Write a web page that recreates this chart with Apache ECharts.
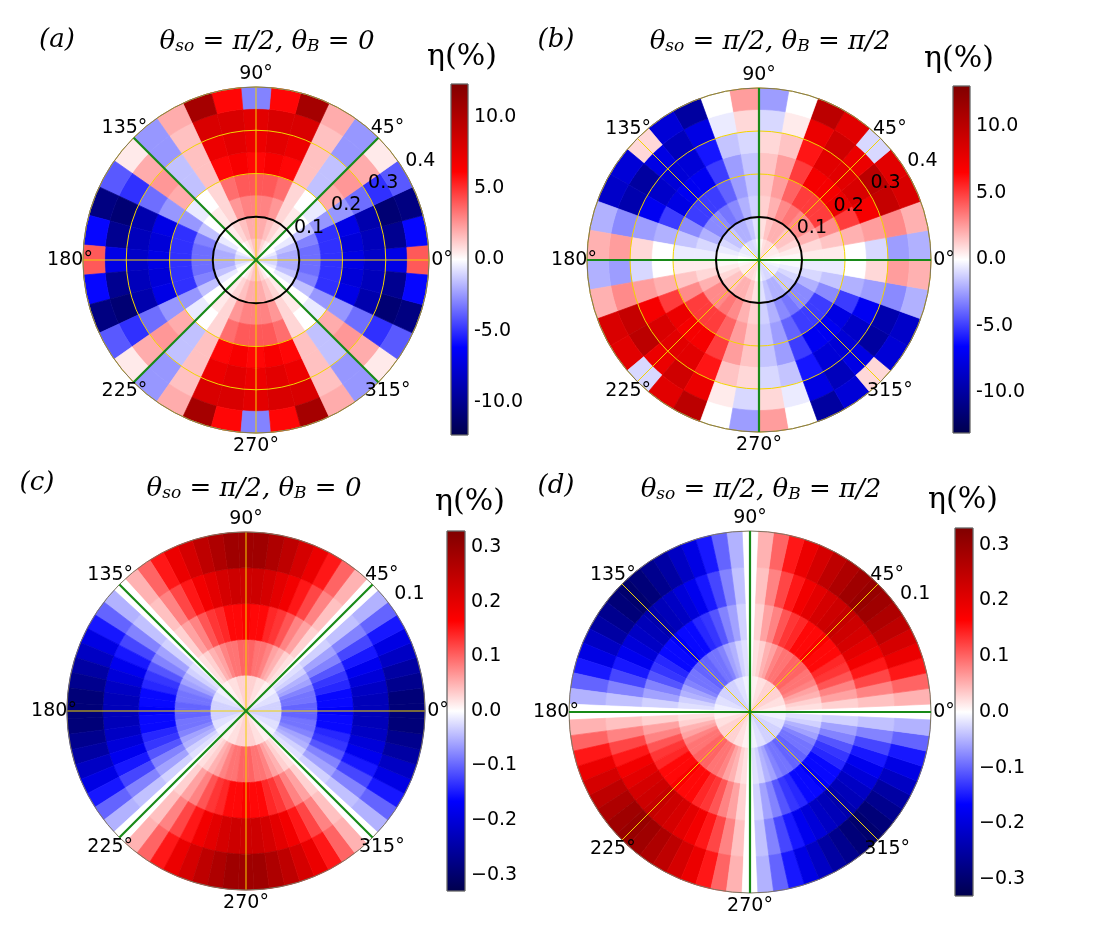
<!DOCTYPE html>
<html>
<head>
<meta charset="utf-8">
<script src="https://cdn.jsdelivr.net/npm/echarts@6/dist/echarts.min.js"></script>
<style>
html, body { margin: 0; padding: 0; background: #fff; }
#main { width: 1101px; height: 948px; }
</style>
</head>
<body>
<div id="main"></div>
<script>
// 扇区中心角度(度)
var angA = [0,10,20,30,40,50,60,70,80,90,100,110,120,130,140,150,160,170,180,190,200,210,220,230,240,250,260,270,280,290,300,310,320,330,340,350];
var angB = [5,15,25,35,45,55,65,75,85,95,105,115,125,135,145,155,165,175,185,195,205,215,225,235,245,255,265,275,285,295,305,315,325,335,345,355];
var ang5 = [0,5,10,15,20,25,30,35,40,45,50,55,60,65,70,75,80,85,90,95,100,105,110,115,120,125,130,135,140,145,150,155,160,165,170,175,
            180,185,190,195,200,205,210,215,220,225,230,235,240,245,250,255,260,265,270,275,280,285,290,295,300,305,310,315,320,325,330,335,340,345,350,355];
// 半径分层边界
var ringsAB = [0, 0.05, 0.1, 0.15, 0.2, 0.25, 0.3, 0.35, 0.4];
var ringsCD = [0, 0.02, 0.04, 0.06, 0.08, 0.1];

// (a) η(%) 每行一个扇区, 从内到外
var etaA = [
  [-1.0,-2.0,-3.5,-5.0,-7.0,-8.0,-7.0,4.0],
  [-1.0,-2.0,-3.5,-5.0,-7.5,-8.5,-10.0,-6.0],
  [-0.5,-1.5,-3.0,-5.0,-7.0,-9.0,-11.0,-10.5],
  [0.0,-0.5,-1.5,-2.5,-2.5,-3.5,-5.0,-4.0],
  [0.0,0.0,0.0,-0.5,2.0,2.5,2.0,0.5],
  [0.0,0.5,0.5,0.0,-1.5,-1.5,-2.5,-2.5],
  [0.5,1.0,1.0,1.0,1.5,1.5,1.5,2.0],
  [1.0,1.5,2.5,3.5,6.0,7.0,8.0,10.5],
  [1.5,2.0,3.0,4.0,6.5,7.5,8.0,6.0],
  [1.5,2.0,3.0,4.0,6.0,7.0,7.5,-3.0],
  [1.5,2.0,3.0,4.0,6.5,7.5,8.0,6.0],
  [1.0,1.5,2.5,3.5,6.0,7.0,8.0,10.5],
  [0.5,1.0,1.0,1.0,1.5,1.5,1.5,2.0],
  [0.0,0.5,0.5,0.0,-1.5,-1.5,-2.5,-2.5],
  [0.0,0.0,0.0,-0.5,2.0,2.5,2.0,0.5],
  [0.0,-0.5,-1.5,-2.5,-2.5,-3.5,-5.0,-4.0],
  [-0.5,-1.5,-3.0,-5.0,-7.0,-9.0,-11.0,-10.5],
  [-1.0,-2.0,-3.5,-5.0,-7.5,-8.5,-10.0,-6.0],
  [-1.0,-2.0,-3.5,-5.0,-7.0,-8.0,-7.0,4.0],
  [-1.0,-2.0,-3.5,-5.0,-7.5,-8.5,-10.0,-6.0],
  [-0.5,-1.5,-3.0,-5.0,-7.0,-9.0,-11.0,-10.5],
  [0.0,-0.5,-1.5,-2.5,-2.5,-3.5,-5.0,-4.0],
  [0.0,0.0,0.0,-0.5,2.0,2.5,2.0,0.5],
  [0.0,0.5,0.5,0.0,-1.5,-1.5,-2.5,-2.5],
  [0.5,1.0,1.0,1.0,1.5,1.5,1.5,2.0],
  [1.0,1.5,2.5,3.5,6.0,7.0,8.0,10.5],
  [1.5,2.0,3.0,4.0,6.5,7.5,8.0,6.0],
  [1.5,2.0,3.0,4.0,6.0,7.0,7.5,-3.0],
  [1.5,2.0,3.0,4.0,6.5,7.5,8.0,6.0],
  [1.0,1.5,2.5,3.5,6.0,7.0,8.0,10.5],
  [0.5,1.0,1.0,1.0,1.5,1.5,1.5,2.0],
  [0.0,0.5,0.5,0.0,-1.5,-1.5,-2.5,-2.5],
  [0.0,0.0,0.0,-0.5,2.0,2.5,2.0,0.5],
  [0.0,-0.5,-1.5,-2.5,-2.5,-3.5,-5.0,-4.0],
  [-0.5,-1.5,-3.0,-5.0,-7.0,-9.0,-11.0,-10.5],
  [-1.0,-2.0,-3.5,-5.0,-7.5,-8.5,-10.0,-6.0]
];

// (b)
var etaB = [
  [0.0,0.2,0.5,0.5,0.0,-1.0,-2.5,-2.0],
  [0.3,0.5,1.0,1.5,2.0,2.5,3.0,2.0],
  [0.5,1.0,2.0,3.0,5.0,7.0,9.5,8.5],
  [0.5,1.5,3.0,5.0,7.5,8.5,10.0,8.0],
  [0.5,1.5,3.0,5.0,7.0,8.0,7.5,-1.0],
  [1.0,2.0,3.5,5.0,7.0,8.0,9.0,8.0],
  [1.0,2.0,3.0,4.0,5.0,6.0,7.5,10.0],
  [0.8,1.5,2.0,2.5,2.5,1.5,0.5,0.0],
  [0.3,0.8,1.2,1.5,1.5,1.0,-1.0,-2.5],
  [-0.3,-0.8,-1.2,-1.5,-1.5,-1.0,1.0,2.5],
  [-0.8,-1.5,-2.0,-2.5,-2.5,-1.5,-0.5,0.0],
  [-1.0,-2.0,-3.0,-4.0,-5.0,-6.0,-7.5,-10.0],
  [-1.0,-2.0,-3.5,-5.0,-7.0,-8.0,-9.0,-8.0],
  [-0.5,-1.5,-3.0,-5.0,-7.0,-8.0,-7.5,1.0],
  [-0.5,-1.5,-3.0,-5.0,-7.5,-8.5,-10.0,-8.0],
  [-0.5,-1.0,-2.0,-3.0,-5.0,-7.0,-9.5,-8.5],
  [-0.3,-0.5,-1.0,-1.5,-2.0,-2.5,-3.0,-2.0],
  [0.0,-0.2,-0.5,-0.5,0.0,1.0,2.5,2.0],
  [0.0,0.2,0.5,0.5,0.0,-1.0,-2.5,-2.0],
  [0.3,0.5,1.0,1.5,2.0,2.5,3.0,2.0],
  [0.5,1.0,2.0,3.0,5.0,7.0,9.5,8.5],
  [0.5,1.5,3.0,5.0,7.5,8.5,10.0,8.0],
  [0.5,1.5,3.0,5.0,7.0,8.0,7.5,-1.0],
  [1.0,2.0,3.5,5.0,7.0,8.0,9.0,8.0],
  [1.0,2.0,3.0,4.0,5.0,6.0,7.5,10.0],
  [0.8,1.5,2.0,2.5,2.5,1.5,0.5,0.0],
  [0.3,0.8,1.2,1.5,1.5,1.0,-1.0,-2.5],
  [-0.3,-0.8,-1.2,-1.5,-1.5,-1.0,1.0,2.5],
  [-0.8,-1.5,-2.0,-2.5,-2.5,-1.5,-0.5,0.0],
  [-1.0,-2.0,-3.0,-4.0,-5.0,-6.0,-7.5,-10.0],
  [-1.0,-2.0,-3.5,-5.0,-7.0,-8.0,-9.0,-8.0],
  [-0.5,-1.5,-3.0,-5.0,-7.0,-8.0,-7.5,1.0],
  [-0.5,-1.5,-3.0,-5.0,-7.5,-8.5,-10.0,-8.0],
  [-0.5,-1.0,-2.0,-3.0,-5.0,-7.0,-9.5,-8.5],
  [-0.3,-0.5,-1.0,-1.5,-2.0,-2.5,-3.0,-2.0],
  [0.0,-0.2,-0.5,-0.5,0.0,1.0,2.5,2.0]
];

// (c)
var etaC = [
  [-0.03,-0.10,-0.17,-0.23,-0.29],[-0.03,-0.10,-0.16,-0.23,-0.29],[-0.03,-0.09,-0.16,-0.22,-0.27],[-0.03,-0.09,-0.14,-0.20,-0.25],
  [-0.02,-0.08,-0.13,-0.18,-0.22],[-0.02,-0.06,-0.11,-0.15,-0.19],[-0.02,-0.05,-0.08,-0.12,-0.15],[-0.01,-0.03,-0.06,-0.08,-0.10],
  [-0.01,-0.02,-0.03,-0.04,-0.05],[0.00,0.00,0.00,0.00,0.00],[0.01,0.02,0.03,0.04,0.05],[0.01,0.03,0.06,0.08,0.10],
  [0.02,0.05,0.08,0.12,0.15],[0.02,0.06,0.11,0.15,0.19],[0.02,0.08,0.13,0.18,0.22],[0.03,0.09,0.14,0.20,0.25],
  [0.03,0.09,0.16,0.22,0.27],[0.03,0.10,0.16,0.23,0.29],[0.03,0.10,0.17,0.23,0.29],
  [0.03,0.10,0.16,0.23,0.29],[0.03,0.09,0.16,0.22,0.27],[0.03,0.09,0.14,0.20,0.25],[0.02,0.08,0.13,0.18,0.22],
  [0.02,0.06,0.11,0.15,0.19],[0.02,0.05,0.08,0.12,0.15],[0.01,0.03,0.06,0.08,0.10],[0.01,0.02,0.03,0.04,0.05],
  [0.00,0.00,0.00,0.00,0.00],[-0.01,-0.02,-0.03,-0.04,-0.05],[-0.01,-0.03,-0.06,-0.08,-0.10],[-0.02,-0.05,-0.08,-0.12,-0.15],
  [-0.02,-0.06,-0.11,-0.15,-0.19],[-0.02,-0.08,-0.13,-0.18,-0.22],[-0.03,-0.09,-0.14,-0.20,-0.25],[-0.03,-0.09,-0.16,-0.22,-0.27],
  [-0.03,-0.10,-0.16,-0.23,-0.29],
  [-0.03,-0.10,-0.17,-0.23,-0.29],[-0.03,-0.10,-0.16,-0.23,-0.29],[-0.03,-0.09,-0.16,-0.22,-0.27],[-0.03,-0.09,-0.14,-0.20,-0.25],
  [-0.02,-0.08,-0.13,-0.18,-0.22],[-0.02,-0.06,-0.11,-0.15,-0.19],[-0.02,-0.05,-0.08,-0.12,-0.15],[-0.01,-0.03,-0.06,-0.08,-0.10],
  [-0.01,-0.02,-0.03,-0.04,-0.05],[0.00,0.00,0.00,0.00,0.00],[0.01,0.02,0.03,0.04,0.05],[0.01,0.03,0.06,0.08,0.10],
  [0.02,0.05,0.08,0.12,0.15],[0.02,0.06,0.11,0.15,0.19],[0.02,0.08,0.13,0.18,0.22],[0.03,0.09,0.14,0.20,0.25],
  [0.03,0.09,0.16,0.22,0.27],[0.03,0.10,0.16,0.23,0.29],[0.03,0.10,0.17,0.23,0.29],
  [0.03,0.10,0.16,0.23,0.29],[0.03,0.09,0.16,0.22,0.27],[0.03,0.09,0.14,0.20,0.25],[0.02,0.08,0.13,0.18,0.22],
  [0.02,0.06,0.11,0.15,0.19],[0.02,0.05,0.08,0.12,0.15],[0.01,0.03,0.06,0.08,0.10],[0.01,0.02,0.03,0.04,0.05],
  [0.00,0.00,0.00,0.00,0.00],[-0.01,-0.02,-0.03,-0.04,-0.05],[-0.01,-0.03,-0.06,-0.08,-0.10],[-0.02,-0.05,-0.08,-0.12,-0.15],
  [-0.02,-0.06,-0.11,-0.15,-0.19],[-0.02,-0.08,-0.13,-0.18,-0.22],[-0.03,-0.09,-0.14,-0.20,-0.25],[-0.03,-0.09,-0.16,-0.22,-0.27],
  [-0.03,-0.10,-0.16,-0.23,-0.29]
];

// (d)
var etaD = [
  [0,0,0,0,0],
  [0.01,0.02,0.03,0.04,0.05],[0.01,0.03,0.06,0.08,0.10],[0.02,0.05,0.08,0.12,0.15],[0.02,0.06,0.11,0.15,0.19],
  [0.02,0.08,0.13,0.18,0.22],[0.03,0.09,0.14,0.20,0.25],[0.03,0.09,0.16,0.22,0.27],[0.03,0.10,0.16,0.23,0.29],
  [0.03,0.10,0.17,0.24,0.30],
  [0.03,0.10,0.16,0.23,0.29],[0.03,0.09,0.16,0.22,0.27],[0.03,0.09,0.14,0.20,0.25],[0.02,0.08,0.13,0.18,0.22],
  [0.02,0.06,0.11,0.15,0.19],[0.02,0.05,0.08,0.12,0.15],[0.01,0.03,0.06,0.08,0.10],[0.01,0.02,0.03,0.04,0.05],
  [0,0,0,0,0],
  [-0.01,-0.02,-0.03,-0.04,-0.05],[-0.01,-0.03,-0.06,-0.08,-0.10],[-0.02,-0.05,-0.08,-0.12,-0.15],[-0.02,-0.06,-0.11,-0.15,-0.19],
  [-0.02,-0.08,-0.13,-0.18,-0.22],[-0.03,-0.09,-0.14,-0.20,-0.25],[-0.03,-0.09,-0.16,-0.22,-0.27],[-0.03,-0.10,-0.16,-0.23,-0.29],
  [-0.03,-0.10,-0.17,-0.24,-0.30],
  [-0.03,-0.10,-0.16,-0.23,-0.29],[-0.03,-0.09,-0.16,-0.22,-0.27],[-0.03,-0.09,-0.14,-0.20,-0.25],[-0.02,-0.08,-0.13,-0.18,-0.22],
  [-0.02,-0.06,-0.11,-0.15,-0.19],[-0.02,-0.05,-0.08,-0.12,-0.15],[-0.01,-0.03,-0.06,-0.08,-0.10],[-0.01,-0.02,-0.03,-0.04,-0.05],
  [0,0,0,0,0],
  [0.01,0.02,0.03,0.04,0.05],[0.01,0.03,0.06,0.08,0.10],[0.02,0.05,0.08,0.12,0.15],[0.02,0.06,0.11,0.15,0.19],
  [0.02,0.08,0.13,0.18,0.22],[0.03,0.09,0.14,0.20,0.25],[0.03,0.09,0.16,0.22,0.27],[0.03,0.10,0.16,0.23,0.29],
  [0.03,0.10,0.17,0.24,0.30],
  [0.03,0.10,0.16,0.23,0.29],[0.03,0.09,0.16,0.22,0.27],[0.03,0.09,0.14,0.20,0.25],[0.02,0.08,0.13,0.18,0.22],
  [0.02,0.06,0.11,0.15,0.19],[0.02,0.05,0.08,0.12,0.15],[0.01,0.03,0.06,0.08,0.10],[0.01,0.02,0.03,0.04,0.05],
  [0,0,0,0,0],
  [-0.01,-0.02,-0.03,-0.04,-0.05],[-0.01,-0.03,-0.06,-0.08,-0.10],[-0.02,-0.05,-0.08,-0.12,-0.15],[-0.02,-0.06,-0.11,-0.15,-0.19],
  [-0.02,-0.08,-0.13,-0.18,-0.22],[-0.03,-0.09,-0.14,-0.20,-0.25],[-0.03,-0.09,-0.16,-0.22,-0.27],[-0.03,-0.10,-0.16,-0.23,-0.29],
  [-0.03,-0.10,-0.17,-0.24,-0.30],
  [-0.03,-0.10,-0.16,-0.23,-0.29],[-0.03,-0.09,-0.16,-0.22,-0.27],[-0.03,-0.09,-0.14,-0.20,-0.25],[-0.02,-0.08,-0.13,-0.18,-0.22],
  [-0.02,-0.06,-0.11,-0.15,-0.19],[-0.02,-0.05,-0.08,-0.12,-0.15],[-0.01,-0.03,-0.06,-0.08,-0.10],[-0.01,-0.02,-0.03,-0.04,-0.05]
];

// 刻度
var angleTicks = [0, 45, 90, 135, 180, 225, 270, 315];
var rTicksAB = [0.1, 0.2, 0.3, 0.4];
var rTicksCD = [0.1];
var cbTicksAB = [-10, -5, 0, 5, 10];
var cbTicksCD = [-0.3, -0.2, -0.1, 0, 0.1, 0.2, 0.3];
var cbRanges = [12.3, 13.05, 0.33, 0.33];

var seismic = ['#00004d', '#0000ff', '#ffffff', '#ff0000', '#800000'];
var YELLOW = '#f2d400';
var GREEN = '#188a18';
var FONT = 'DejaVu Sans';

var panels = [
  {cx: 256, cy: 260, R: 173, rmax: 0.4, ang: angA, step: 10, rings: ringsAB, eta: etaA, green: [[45, 225], [135, 315]],
   circle: true, rTicks: rTicksAB, rOff: [16, -10], cb: [451, 84, 17, 351], cbTicks: cbTicksAB, minus: '-',
   letter: '(a)', lp: [57, 40], title: '{m|θ}{s|so}{m| = π/2, θ}{s|B}{m| = 0}', tp: [267, 38], ep: [462, 57]},
  {cx: 759, cy: 260, R: 172, rmax: 0.4, ang: angB, step: 10, rings: ringsAB, eta: etaB, green: [[0, 180], [90, 270]],
   circle: true, rTicks: rTicksAB, rOff: [16, -10], cb: [953, 86, 17, 347], cbTicks: cbTicksAB, minus: '-',
   letter: '(b)', lp: [556, 40], title: '{m|θ}{s|so}{m| = π/2, θ}{s|B}{m| = π/2}', tp: [770, 38], ep: [959, 59]},
  {cx: 246, cy: 711, R: 179, rmax: 0.1, ang: ang5, step: 5, rings: ringsCD, eta: etaC, green: [[45, 225], [135, 315]],
   circle: false, rTicks: rTicksCD, rOff: [10, -25], cb: [447, 531, 18, 360], cbTicks: cbTicksCD, minus: '\u2212',
   letter: '(c)', lp: [37, 483], title: '{m|θ}{s|so}{m| = π/2, θ}{s|B}{m| = 0}', tp: [254, 485], ep: [470, 502]},
  {cx: 750, cy: 712, R: 181, rmax: 0.1, ang: ang5, step: 5, rings: ringsCD, eta: etaD, green: [[0, 180], [90, 270]],
   circle: false, rTicks: rTicksCD, rOff: [10, -25], cb: [955, 528, 18, 368], cbTicks: cbTicksCD, minus: '\u2212',
   letter: '(d)', lp: [556, 486], title: '{m|θ}{s|so}{m| = π/2, θ}{s|B}{m| = π/2}', tp: [761, 486], ep: [963, 500]}
];

function renderCell(params, api) {
  var r0 = api.value(0), r1 = api.value(1), a0 = api.value(2), a1 = api.value(3);
  var pts = [], k;
  for (k = 0; k <= 4; k++) pts.push(api.coord([r1, a0 + (a1 - a0) * k / 4]));
  for (k = 4; k >= 0; k--) pts.push(api.coord([r0, a0 + (a1 - a0) * k / 4]));
  var c = api.visual('color');
  return {type: 'polygon', shape: {points: pts}, style: {fill: c, stroke: c, lineWidth: 0.7}};
}

function renderGreen(params, api) {
  var p1 = api.coord([api.value(0), api.value(1)]);
  var p2 = api.coord([api.value(0), api.value(2)]);
  return {type: 'line', shape: {x1: p1[0], y1: p1[1], x2: p2[0], y2: p2[1]}, style: {stroke: GREEN, lineWidth: 2.2}};
}

function renderCircle(params, api) {
  var c = api.coord([0, 0]);
  var p = api.coord([api.value(0), 0]);
  var r = Math.sqrt((p[0] - c[0]) * (p[0] - c[0]) + (p[1] - c[1]) * (p[1] - c[1]));
  return {type: 'circle', shape: {cx: c[0], cy: c[1], r: r}, style: {fill: 'none', stroke: '#000', lineWidth: 2}};
}

function renderBar(params, api) {
  var top = api.coord([0, api.value(3)]);
  var bot = api.coord([1, api.value(2)]);
  return {
    type: 'rect',
    shape: {x: top[0], y: top[1], width: bot[0] - top[0], height: bot[1] - top[1]},
    style: {
      fill: new echarts.graphic.LinearGradient(0, 0, 0, 1, [
        {offset: 0, color: seismic[4]}, {offset: 0.25, color: seismic[3]},
        {offset: 0.5, color: seismic[2]}, {offset: 0.75, color: seismic[1]}, {offset: 1, color: seismic[0]}
      ]),
      stroke: '#666', lineWidth: 0.8
    }
  };
}

var option = {
  backgroundColor: '#fff',
  animation: false,
  polar: [], angleAxis: [], radiusAxis: [],
  grid: [], xAxis: [], yAxis: [],
  visualMap: [], series: [], graphic: []
};

// 热图系列先放, visualMap 用 seriesIndex 0..3
panels.forEach(function (p, k) {
  var data = [];
  p.eta.forEach(function (row, i) {
    row.forEach(function (v, j) {
      data.push([p.rings[j], p.rings[j + 1], p.ang[i] - p.step / 2, p.ang[i] + p.step / 2, v]);
    });
  });
  option.series.push({
    type: 'custom', coordinateSystem: 'polar', polarIndex: k, z: 1, silent: true,
    renderItem: renderCell, data: data
  });
  option.visualMap.push({
    type: 'continuous', show: false, seriesIndex: k, dimension: 4,
    min: -cbRanges[k], max: cbRanges[k], inRange: {color: seismic}
  });
});

// 刻度文字: 位置由极坐标换算, 之后用 graphic 写
var textJobs = [];

panels.forEach(function (p, k) {
  option.polar.push({center: [p.cx, p.cy], radius: p.R});
  option.angleAxis.push({
    polarIndex: k, type: 'value', min: 0, max: 360, interval: 45, startAngle: 0, clockwise: false, z: 6,
    axisLine: {show: true, lineStyle: {color: '#7d7460', width: 1}},
    axisTick: {show: false}, axisLabel: {show: false},
    splitLine: {show: true, lineStyle: {color: YELLOW, width: 1}}
  });
  option.radiusAxis.push({
    polarIndex: k, type: 'value', min: 0, max: p.rmax, interval: 0.1, z: 5,
    axisLine: {show: false}, axisTick: {show: false}, axisLabel: {show: false},
    splitLine: {show: p.rmax > 0.1, lineStyle: {color: YELLOW, width: 1}}
  });

  // 绿线
  option.series.push({
    type: 'custom', coordinateSystem: 'polar', polarIndex: k, z: 8, silent: true,
    renderItem: renderGreen,
    data: p.green.map(function (g) { return [p.rmax, g[0], g[1]]; })
  });
  // 黑圈 r = 0.1
  if (p.circle) {
    option.series.push({
      type: 'custom', coordinateSystem: 'polar', polarIndex: k, z: 8, silent: true,
      renderItem: renderCircle, data: [[0.1, 0]]
    });
  }
  // 半径刻度
  p.rTicks.forEach(function (r) {
    textJobs.push({polar: k, value: [r, 31], off: p.rOff, text: r.toFixed(1)});
  });

  // 色条
  var rg = cbRanges[k];
  option.grid.push({left: p.cb[0], top: p.cb[1], width: p.cb[2], height: p.cb[3], show: false});
  option.xAxis.push({gridIndex: k, type: 'value', min: 0, max: 1, show: false});
  option.yAxis.push({
    gridIndex: k, type: 'value', position: 'right', min: -rg, max: rg,
    axisLine: {show: false}, splitLine: {show: false},
    axisTick: {show: true, length: 4, lineStyle: {color: '#333', width: 1}, customValues: p.cbTicks},
    axisLabel: {
      margin: 6, fontSize: 19, color: '#000', fontFamily: FONT, customValues: p.cbTicks,
      formatter: (function (minus) {
        return function (v) { return (v < 0 ? minus : '') + Math.abs(v).toFixed(1); };
      })(p.minus)
    }
  });
  option.series.push({
    type: 'custom', coordinateSystem: 'cartesian2d', xAxisIndex: k, yAxisIndex: k, silent: true,
    renderItem: renderBar, data: [[0, 1, -rg, rg]]
  });

  // 文字
  option.graphic.push({
    type: 'text', x: p.lp[0], y: p.lp[1], silent: true,
    style: {text: p.letter, font: 'italic 26px "DejaVu Serif"', fill: '#000', align: 'center', verticalAlign: 'middle'}
  });
  option.graphic.push({
    type: 'text', x: p.tp[0], y: p.tp[1], silent: true,
    style: {
      text: p.title, align: 'center', verticalAlign: 'middle', fill: '#000',
      rich: {
        m: {fontSize: 26, fontFamily: 'DejaVu Serif', fontStyle: 'italic', lineHeight: 34, verticalAlign: 'bottom', fill: '#000'},
        s: {fontSize: 17, fontFamily: 'DejaVu Serif', fontStyle: 'italic', lineHeight: 16, verticalAlign: 'bottom', fill: '#000'}
      }
    }
  });
  option.graphic.push({
    type: 'text', x: p.ep[0], y: p.ep[1], silent: true,
    style: {text: 'η(%)', font: '30px "DejaVu Serif"', fill: '#000', align: 'center', verticalAlign: 'middle'}
  });
});

// 角度标签用外圈极坐标 (半径 R + 13)
panels.forEach(function (p, k) {
  var idx = 4 + k;
  option.polar.push({center: [p.cx, p.cy], radius: p.R + 13});
  option.angleAxis.push({polarIndex: idx, type: 'value', min: 0, max: 360, startAngle: 0, clockwise: false, show: false});
  option.radiusAxis.push({polarIndex: idx, type: 'value', min: 0, max: 1, show: false});
  angleTicks.forEach(function (a) {
    textJobs.push({polar: idx, value: [1, a], off: [0, 0], text: a + '°'});
  });
});

var chart = echarts.init(document.getElementById('main'));
chart.setOption(option);

var labels = textJobs.map(function (j) {
  var pt = chart.convertToPixel({polarIndex: j.polar}, j.value);
  return {
    type: 'text', x: pt[0] + j.off[0], y: pt[1] + j.off[1], silent: true, z: 20,
    style: {text: j.text, font: '19px "DejaVu Sans"', fill: '#000', align: 'center', verticalAlign: 'middle'}
  };
});
chart.setOption({graphic: option.graphic.concat(labels)});
</script>
</body>
</html>
